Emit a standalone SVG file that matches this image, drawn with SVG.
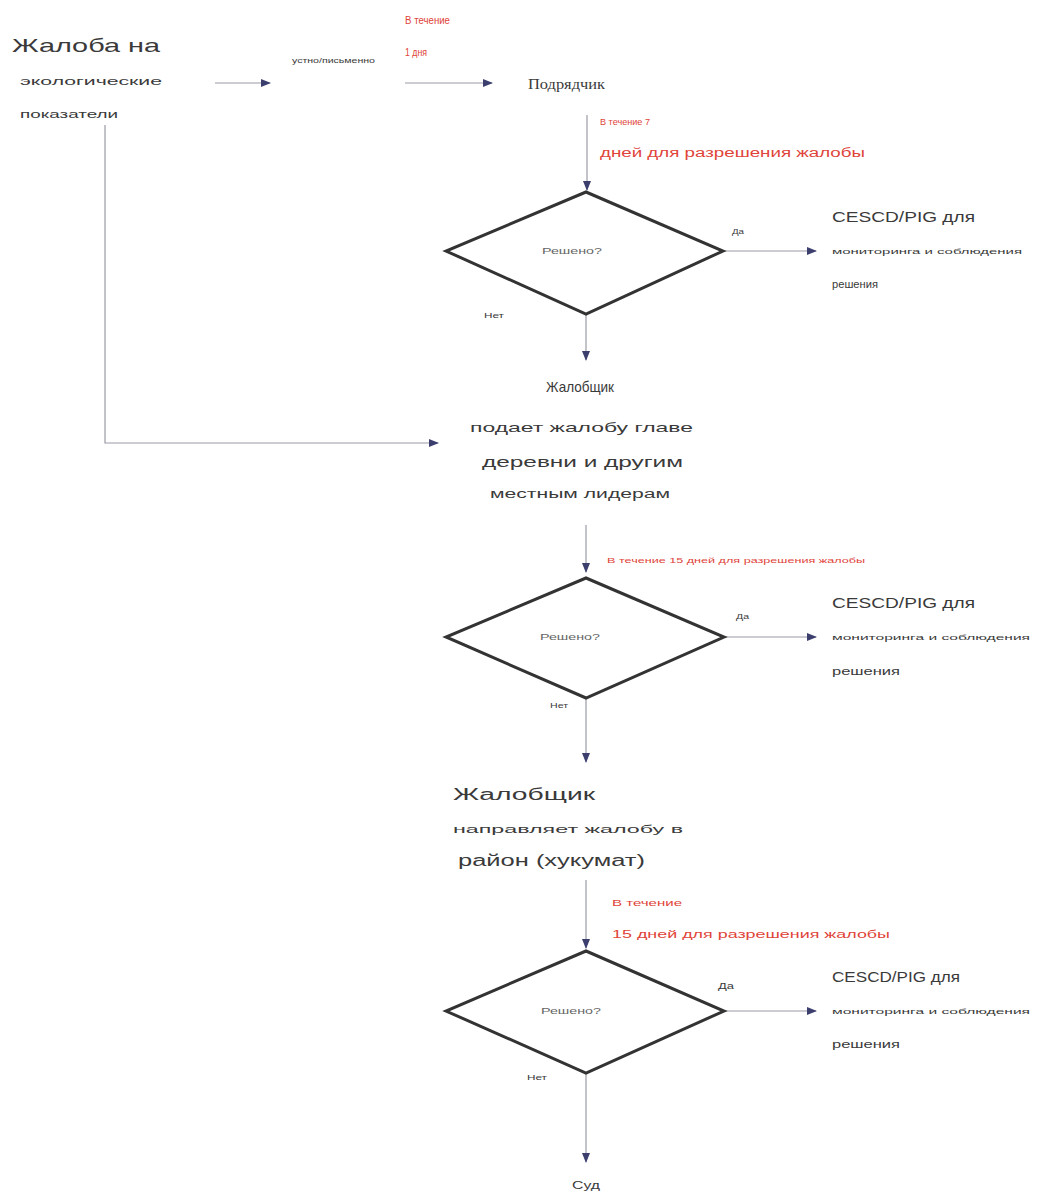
<svg xmlns="http://www.w3.org/2000/svg" width="1037" height="1198" viewBox="0 0 1037 1198">
<defs>
<marker id="ah" markerWidth="10" markerHeight="10" refX="9" refY="5" orient="auto" markerUnits="userSpaceOnUse">
<path d="M0,1 L10,5 L0,9 Z" fill="#3c3f6e"/>
</marker>
<style>
text{font-family:"Liberation Sans",Arial,sans-serif;fill:#3a3a3a}
.red{fill:#e0443a}
.q{fill:#666}
.c{stroke:#9a9aa6;stroke-width:1.2;fill:none}
.d{fill:#fff;stroke:#333;stroke-width:3}
.serif{font-family:"Liberation Serif","Times New Roman",serif}
</style>
</defs>
<rect width="1037" height="1198" fill="#fff"/>
<g id="connectors">
<line class="c" x1="215" y1="83" x2="270" y2="83" marker-end="url(#ah)"/>
<line class="c" x1="405" y1="83" x2="492" y2="83" marker-end="url(#ah)"/>
<line class="c" x1="587" y1="115" x2="587" y2="190" marker-end="url(#ah)"/>
<line class="c" x1="723" y1="251" x2="816" y2="251" marker-end="url(#ah)"/>
<line class="c" x1="586" y1="314" x2="586" y2="360" marker-end="url(#ah)"/>
<polyline class="c" points="105,125 105,443 438,443" marker-end="url(#ah)"/>
<line class="c" x1="586" y1="525" x2="586" y2="572" marker-end="url(#ah)"/>
<line class="c" x1="724" y1="637" x2="816" y2="637" marker-end="url(#ah)"/>
<line class="c" x1="586" y1="698" x2="586" y2="762" marker-end="url(#ah)"/>
<line class="c" x1="586" y1="880" x2="586" y2="948" marker-end="url(#ah)"/>
<line class="c" x1="724" y1="1011" x2="816" y2="1011" marker-end="url(#ah)"/>
<line class="c" x1="586" y1="1073" x2="586" y2="1162" marker-end="url(#ah)"/>
<text x="292" y="63" font-size="8" textLength="83" lengthAdjust="spacingAndGlyphs">устно/письменно</text>
<text class="red" x="405" y="24" font-size="10" textLength="45" lengthAdjust="spacingAndGlyphs">В течение</text>
<text class="red" x="405" y="56" font-size="10" textLength="22" lengthAdjust="spacingAndGlyphs">1 дня</text>
<text class="red" x="600" y="125" font-size="9" textLength="50" lengthAdjust="spacingAndGlyphs">В течение 7</text>
<text class="red" x="600" y="157" font-size="12" textLength="265" lengthAdjust="spacingAndGlyphs">дней для разрешения жалобы</text>
<text x="732" y="234" font-size="8" textLength="12" lengthAdjust="spacingAndGlyphs">Да</text>
<text x="484" y="318" font-size="8" textLength="20" lengthAdjust="spacingAndGlyphs">Нет</text>
<text class="red" x="607" y="563" font-size="8" textLength="258" lengthAdjust="spacingAndGlyphs">В течение 15 дней для разрешения жалобы</text>
<text x="736" y="619" font-size="8" textLength="13" lengthAdjust="spacingAndGlyphs">Да</text>
<text x="550" y="708" font-size="8" textLength="18" lengthAdjust="spacingAndGlyphs">Нет</text>
<text class="red" x="612" y="906" font-size="9" textLength="70" lengthAdjust="spacingAndGlyphs">В течение</text>
<text class="red" x="612" y="938" font-size="11" textLength="278" lengthAdjust="spacingAndGlyphs">15 дней для разрешения жалобы</text>
<text x="718" y="989" font-size="9" textLength="16" lengthAdjust="spacingAndGlyphs">Да</text>
<text x="527" y="1080" font-size="8" textLength="20" lengthAdjust="spacingAndGlyphs">Нет</text>
</g>
<g id="n-complaint">
<text x="12" y="52" font-size="19" textLength="148" lengthAdjust="spacingAndGlyphs">Жалоба на</text>
<text x="20" y="85" font-size="10" textLength="142" lengthAdjust="spacingAndGlyphs">экологические</text>
<text x="20" y="118" font-size="10" textLength="98" lengthAdjust="spacingAndGlyphs">показатели</text>
</g>
<g id="n-contractor">
<text class="serif" x="528" y="89" font-size="15" textLength="77" lengthAdjust="spacingAndGlyphs">Подрядчик</text>
</g>
<g id="n-d1">
<polygon class="d" points="586,192 723,251 586,314 446,251"/>
<text class="q" x="542" y="254" font-size="9" textLength="60" lengthAdjust="spacingAndGlyphs">Решено?</text>
</g>
<g id="n-cescd1">
<text x="832" y="222" font-size="15" textLength="143" lengthAdjust="spacingAndGlyphs">CESCD/PIG для</text>
<text x="832" y="254" font-size="8" textLength="190" lengthAdjust="spacingAndGlyphs">мониторинга и соблюдения</text>
<text x="832" y="288" font-size="10" textLength="46" lengthAdjust="spacingAndGlyphs">решения</text>
</g>
<g id="n-village">
<text x="546" y="392" font-size="15" textLength="68" lengthAdjust="spacingAndGlyphs">Жалобщик</text>
<text x="470" y="432" font-size="13" textLength="223" lengthAdjust="spacingAndGlyphs">подает жалобу главе</text>
<text x="482" y="467" font-size="15" textLength="201" lengthAdjust="spacingAndGlyphs">деревни и другим</text>
<text x="490" y="498" font-size="12" textLength="180" lengthAdjust="spacingAndGlyphs">местным лидерам</text>
</g>
<g id="n-d2">
<polygon class="d" points="586,578 724,637 586,698 446,637"/>
<text class="q" x="540" y="640" font-size="9" textLength="60" lengthAdjust="spacingAndGlyphs">Решено?</text>
</g>
<g id="n-cescd2">
<text x="832" y="608" font-size="15" textLength="143" lengthAdjust="spacingAndGlyphs">CESCD/PIG для</text>
<text x="832" y="640" font-size="8" textLength="198" lengthAdjust="spacingAndGlyphs">мониторинга и соблюдения</text>
<text x="832" y="675" font-size="10" textLength="68" lengthAdjust="spacingAndGlyphs">решения</text>
</g>
<g id="n-district">
<text x="453" y="800" font-size="16" textLength="142" lengthAdjust="spacingAndGlyphs">Жалобщик</text>
<text x="453" y="833" font-size="11" textLength="230" lengthAdjust="spacingAndGlyphs">направляет жалобу в</text>
<text x="458" y="866" font-size="16" textLength="187" lengthAdjust="spacingAndGlyphs">район (хукумат)</text>
</g>
<g id="n-d3">
<polygon class="d" points="586,951 724,1011 586,1073 446,1011"/>
<text class="q" x="541" y="1014" font-size="9" textLength="60" lengthAdjust="spacingAndGlyphs">Решено?</text>
</g>
<g id="n-cescd3">
<text x="832" y="982" font-size="15" textLength="128" lengthAdjust="spacingAndGlyphs">CESCD/PIG для</text>
<text x="832" y="1014" font-size="8" textLength="198" lengthAdjust="spacingAndGlyphs">мониторинга и соблюдения</text>
<text x="832" y="1048" font-size="10" textLength="68" lengthAdjust="spacingAndGlyphs">решения</text>
</g>
<g id="n-court">
<text x="572" y="1189" font-size="10" textLength="28" lengthAdjust="spacingAndGlyphs">Суд</text>
</g>
</svg>
